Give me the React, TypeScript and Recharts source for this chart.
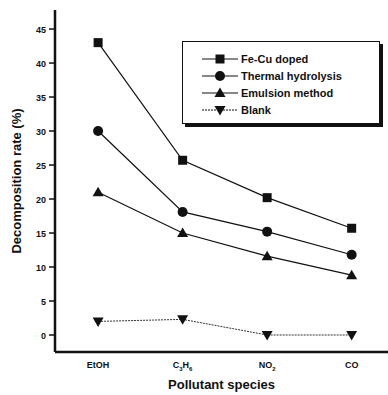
import React from 'react';
import { LineChart, Line, XAxis, YAxis, Legend } from 'recharts';

const species = ['EtOH', 'C3H6', 'NO2', 'CO'];
const feCuDoped = [43, 25.7, 20.2, 15.7];
const thermalHydrolysis = [30, 18.1, 15.2, 11.8];
const emulsionMethod = [21, 15, 11.6, 8.8];
const blank = [2, 2.3, 0, 0];
const seriesNames = ['Fe-Cu doped', 'Thermal hydrolysis', 'Emulsion method', 'Blank'];
const yTicks = [0, 2.5, 5, 7.5, 10, 12.5, 15, 17.5, 20, 22.5, 25, 27.5, 30, 32.5, 35, 37.5, 40, 42.5, 45];

const data = species.map((s, i) => ({
    idx: i,
    name: s,
    feCu: feCuDoped[i],
    thermal: thermalHydrolysis[i],
    emulsion: emulsionMethod[i],
    blank: blank[i],
}));

const INK = '#111';
const FONT = '"Liberation Sans", Arial, sans-serif';

const Square = ({ cx, cy }: any) => <rect x={cx - 4.5} y={cy - 4.5} width={9} height={9} fill={INK} />;
const Circle = ({ cx, cy }: any) => <circle cx={cx} cy={cy} r={5} fill={INK} />;
const TriUp = ({ cx, cy }: any) => (
    <polygon points={`${cx},${cy - 5.5} ${cx + 5.5},${cy + 4} ${cx - 5.5},${cy + 4}`} fill={INK} />
);
const TriDown = ({ cx, cy }: any) => (
    <polygon points={`${cx},${cy + 5.5} ${cx + 5.5},${cy - 4} ${cx - 5.5},${cy - 4}`} fill={INK} />
);

const markers = [Square, Circle, TriUp, TriDown];

// chemical formula with subscripts
const formula = (s: string) => {
    const parts = s.match(/[A-Za-z]+|\d+/g) || [];
    return parts.map((p, i) =>
        /\d/.test(p) ? (
            <tspan key={i} fontSize={6} dy={3}>{p}</tspan>
        ) : (
            <tspan key={i} dy={i > 0 ? -3 : 0}>{p}</tspan>
        )
    );
};

const XTick = ({ x, y, payload }: any) => {
    const label = species[payload.value];
    return (
        <text x={x} y={y + 8} textAnchor="middle" fontSize={9} fontWeight="bold" fontFamily={FONT} fill={INK}>
            {label === 'EtOH' ? label : formula(label)}
        </text>
    );
};

const YTick = ({ x, y, payload }: any) => {
    const major = payload.value % 5 === 0;
    return (
        <g>
            <line x1={x - (major ? 6 : 3)} x2={x} y1={y} y2={y} stroke={INK} strokeWidth={1.5} />
            {major && (
                <text x={x - 9} y={y + 3.5} textAnchor="end" fontSize={9} fontWeight="bold" fontFamily={FONT} fill={INK}>
                    {payload.value}
                </text>
            )}
        </g>
    );
};

const LegendBox = () => (
    <div style={{ position: 'relative', width: 198, height: 83 }}>
        <div style={{ position: 'absolute', left: 3, top: 3, width: 198, height: 83, background: INK }} />
        <svg width={198} height={83} style={{ position: 'absolute', left: 0, top: 0, background: '#fff', border: '1px solid ' + INK, boxSizing: 'border-box' }}>
            {seriesNames.map((n, i) => {
                const M = markers[i];
                const yy = 17 + i * 17;
                return (
                    <g key={n}>
                        <line x1={19} x2={55} y1={yy} y2={yy} stroke={INK} strokeWidth={1} strokeDasharray={i === 3 ? '2 1' : undefined} />
                        <M cx={37} cy={yy} />
                        <text x={58} y={yy + 4} fontSize={11} fontWeight="bold" fontFamily={FONT} fill={INK}>{n}</text>
                    </g>
                );
            })}
        </svg>
    </div>
);

export default function App() {
    return (
        <div style={{ position: 'absolute', left: 0, top: 0, width: 388, height: 395, background: '#fff' }}>
            <LineChart width={388} height={395} data={data} margin={{ top: 10, right: 0, bottom: 0, left: 0 }}>
                <XAxis
                    dataKey="idx"
                    type="number"
                    domain={[-0.51, 3.43]}
                    ticks={[0, 1, 2, 3]}
                    allowDataOverflow
                    height={43}
                    tickLine={false}
                    tick={<XTick />}
                    axisLine={{ stroke: INK, strokeWidth: 2.5 }}
                    label={{ value: 'Pollutant species', position: 'insideBottom', offset: 6, fontSize: 13, fontWeight: 'bold', fontFamily: FONT, fill: INK }}
                />
                <XAxis
                    xAxisId="top"
                    orientation="top"
                    dataKey="idx"
                    type="number"
                    domain={[-0.51, 3.43]}
                    height={0}
                    tick={false}
                    tickLine={false}
                    axisLine={{ stroke: INK, strokeWidth: 2 }}
                />
                <YAxis
                    type="number"
                    domain={[-2.5, 47.8]}
                    ticks={yTicks}
                    allowDataOverflow
                    width={55}
                    tickSize={0}
                    tickMargin={0}
                    tickLine={false}
                    tick={<YTick />}
                    axisLine={{ stroke: INK, strokeWidth: 2.5 }}
                    label={{ value: 'Decomposition rate (%)', angle: -90, position: 'insideLeft', offset: 16, style: { textAnchor: 'middle' }, fontSize: 13, fontWeight: 'bold', fontFamily: FONT, fill: INK }}
                />
                <Legend
                    layout="horizontal"
                    verticalAlign="middle"
                    align="center"
                    content={<LegendBox />}
                    wrapperStyle={{ position: 'absolute', left: 182, top: 41, width: 201, height: 86 }}
                />
                <Line dataKey="feCu" stroke={INK} strokeWidth={1.2} dot={<Square />} isAnimationActive={false} />
                <Line dataKey="thermal" stroke={INK} strokeWidth={1.2} dot={<Circle />} isAnimationActive={false} />
                <Line dataKey="emulsion" stroke={INK} strokeWidth={1.2} dot={<TriUp />} isAnimationActive={false} />
                <Line dataKey="blank" stroke="#333" strokeWidth={1} strokeDasharray="2 1" dot={<TriDown />} isAnimationActive={false} />
            </LineChart>
        </div>
    );
}
